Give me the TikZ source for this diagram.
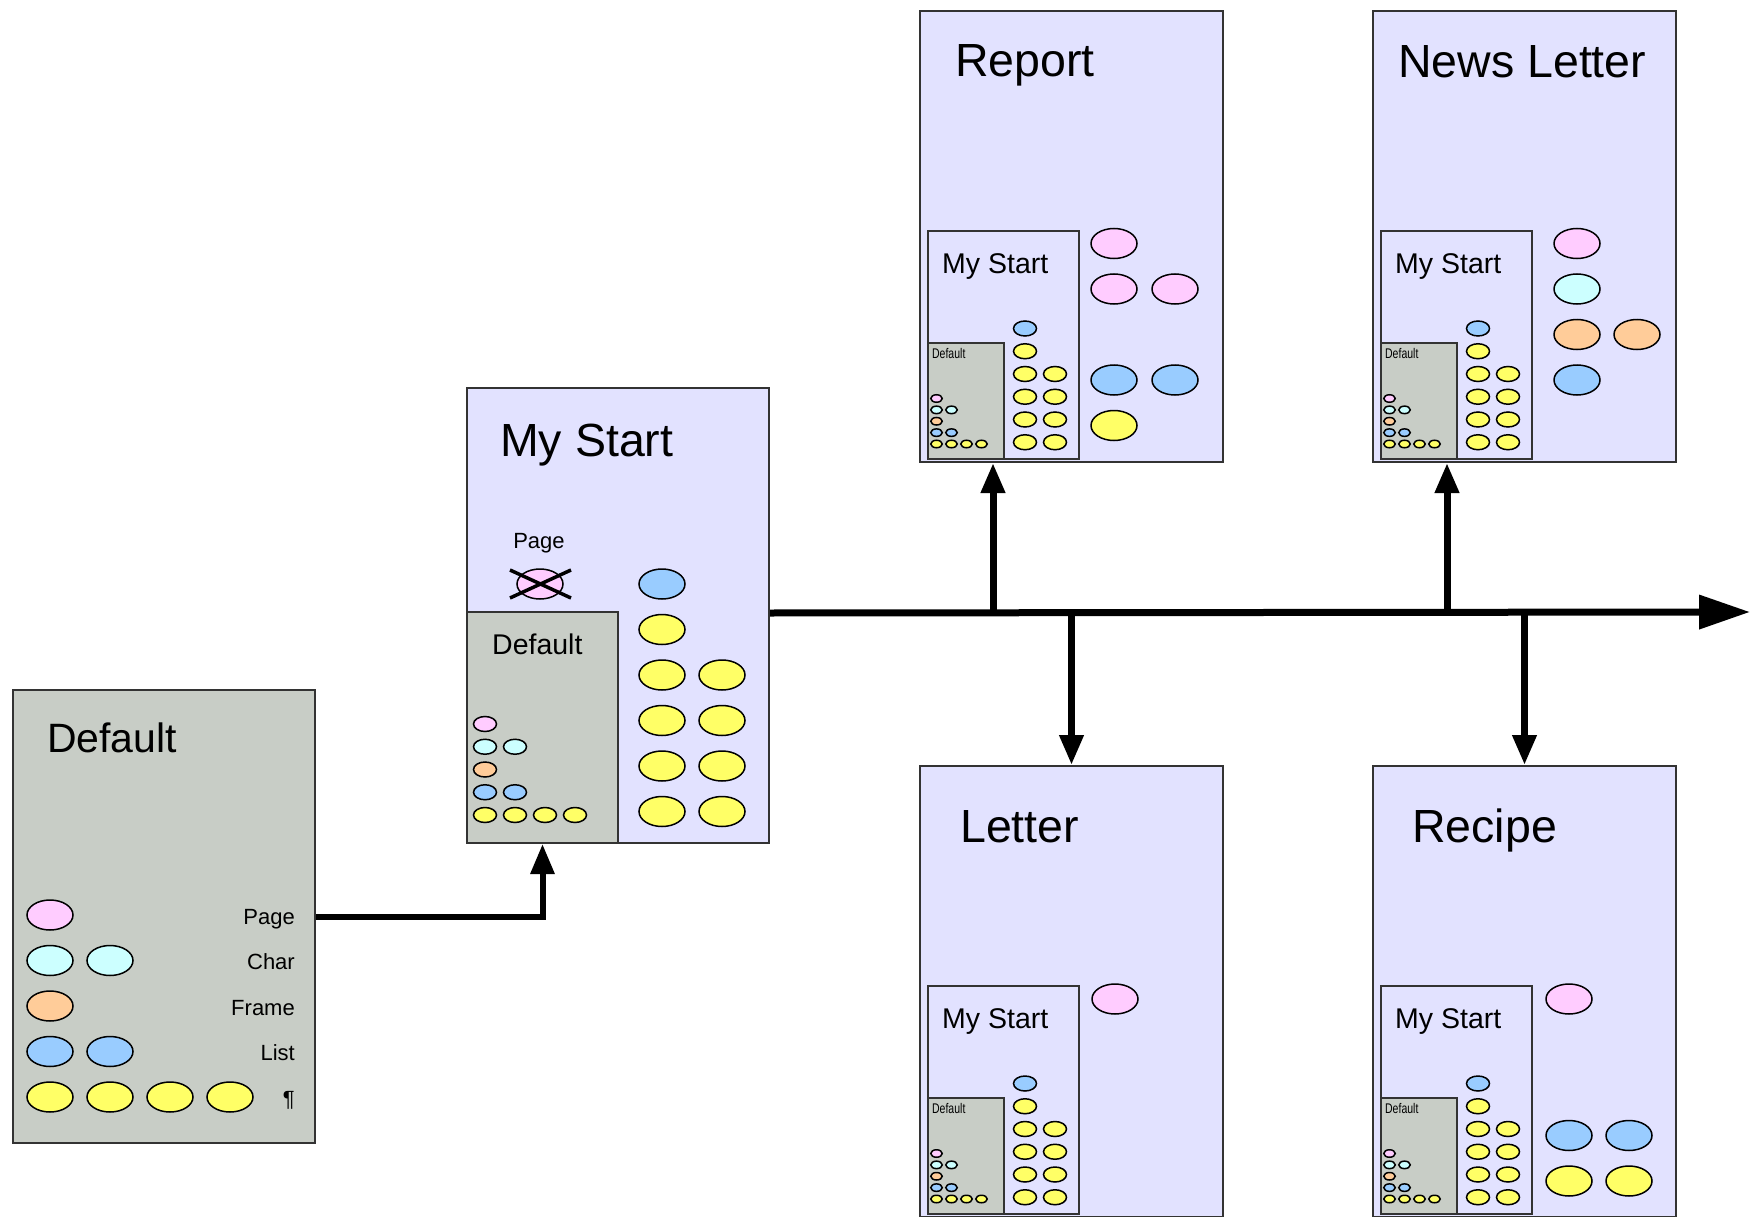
\documentclass[tikz,border=0pt]{standalone}
\usepackage{fontspec}
\setmainfont{Liberation Sans}
\usetikzlibrary{shapes.geometric,arrows.meta,positioning,calc}

\definecolor{tmplfill}{HTML}{E2E2FF}
\definecolor{basefill}{HTML}{C8CDC6}
\definecolor{pagecol}{HTML}{FFCCFF}
\definecolor{charcol}{HTML}{CCFFFF}
\definecolor{framecol}{HTML}{FFCC99}
\definecolor{listcol}{HTML}{99CCFF}
\definecolor{paracol}{HTML}{FFFF66}

\tikzset{
  stylebox/.style={draw=black!80, line width=2pt, inner sep=0pt, anchor=north west},
  basebox/.style={stylebox, fill=basefill},
  tmplbox/.style={stylebox, fill=tmplfill},
  blob/.style={ellipse, draw=black, line width=1.5pt, inner sep=0pt, minimum width=46pt, minimum height=30pt},
  boxtitle/.style={anchor=base west, inner sep=0pt},
  titlefont/.style={font=\fontsize{46.5}{50}\selectfont},
  deffont/.style={font=\fontsize{41}{44}\selectfont},
  minifont/.style={font=\fontsize{28.5}{31}\selectfont},
  microfont/.style={font=\fontsize{14}{15}\selectfont, xscale=0.75},
  stylelabel/.style={anchor=base east, inner sep=0pt, font=\fontsize{22}{24}\selectfont},
  flow/.style={line width=7pt, -{Triangle[length=30pt, width=23pt]}},
  mainflow/.style={line width=7pt, -{Triangle[length=51pt, width=33pt]}},
}

% Default template: [height], name, top left, scale, title style, title offset
\newcommand{\drawdefault}[6][453]{%
  \node[basebox, minimum width=#4*302pt, minimum height=#4*#1pt] (#2) at #3 {};
  \node[boxtitle, #5] (#2t) at ($(#2.north west)+#6$) {Default};
  \foreach \row/\cnt/\fillc in {0/1/pagecol, 1/2/charcol, 2/1/framecol, 3/2/listcol, 4/4/paracol}
    \foreach \m in {1,...,\cnt}
      \node[blob, fill=\fillc, minimum width=#4*46pt, minimum height=#4*30pt]
        (#2\row\m) at ($(#2.north west)+({#4*(38+60*(\m-1))},{#4*(226+45.5*\row)})$) {};
}

% My Start template: name, top left, scale, title style, title offset,
% then title style and offset of the Default inside it
\newcommand{\drawmystart}[7]{%
  \node[tmplbox, minimum width=#3*302pt, minimum height=#3*455pt] (#1) at #2 {};
  \node[boxtitle, #4] (#1t) at ($(#1.north west)+#5$) {My Start};
  \node[blob, fill=listcol, minimum width=#3*46pt, minimum height=#3*30pt]
    (#1l) at ($(#1.north west)+({#3*196},{#3*197})$) {};
  \foreach \row/\cnt in {1/1, 2/2, 3/2, 4/2, 5/2}
    \foreach \m in {1,...,\cnt}
      \node[blob, fill=paracol, minimum width=#3*46pt, minimum height=#3*30pt]
        (#1p\row\m) at ($(#1.north west)+({#3*(196+60*(\m-1))},{#3*(197+45.5*\row)})$) {};
  \drawdefault[462]{#1d}{($(#1.north west)+(0,{#3*224})$)}{#3/2}{#6}{#7}
}

\begin{document}
\begin{tikzpicture}[x=1pt, y=-1pt]
  \useasboundingbox (0,0) rectangle (1751,1217);

  % base template and its style families
  \drawdefault{dflt}{(12,689)}{1}{deffont}{(35,63)}
  \foreach \row/\txt in {0/Page, 1/Char, 2/Frame, 3/List, 4/¶}
    \node[stylelabel] (dl\row) at ($(dflt.north west)+(283,{235+45.5*\row})$) {\txt};

  % My Start, built on Default, drops the page style
  \drawmystart{mystart}{(466,387)}{1}{titlefont}{(34,69)}{minifont}{(26,43)}
  \node[blob, fill=pagecol] (xpage) at ($(mystart.north west)+(74,197)$) {};
  \draw[line width=3.5pt] ($(xpage)+(-30,-14)$) -- ($(xpage)+(31,14)$)
                          ($(xpage)+(-30,14)$) -- ($(xpage)+(31,-14)$);
  \node[stylelabel, anchor=base] (xpagel) at ($(xpage)+(-1,-36)$) {Page};

  % templates derived from My Start
  \foreach \nm/\txt/\x/\y/\tx/\ty in {report/Report/919/10/36/67, news/News Letter/1372/10/26/68,
                                     letter/Letter/919/765/41/77, recipe/Recipe/1372/765/40/77} {
    \node[tmplbox, minimum width=303pt, minimum height=451pt] (\nm) at (\x,\y) {};
    \node[boxtitle, titlefont] (\nm t) at ($(\nm.north west)+(\tx,\ty)$) {\txt};
    \drawmystart{\nm m}{($(\nm.north west)+(8,220)$)}{0.5}{minifont}{(15,43)}{microfont}{(5,16)}
  }

  % their own styles
  \foreach \row/\m/\fillc in {0/0/pagecol, 1/0/pagecol, 1/1/pagecol, 3/0/listcol, 3/1/listcol, 4/0/paracol}
    \node[blob, fill=\fillc] (report\row\m) at ($(report.north west)+({195+61*\m},{233.5+45.5*\row})$) {};
  \foreach \row/\m/\fillc in {0/0/pagecol, 1/0/charcol, 2/0/framecol, 2/1/framecol, 3/0/listcol}
    \node[blob, fill=\fillc] (news\row\m) at ($(news.north west)+({205+60*\m},{233.5+45.5*\row})$) {};
  \foreach \row/\m/\fillc in {0/0/pagecol}
    \node[blob, fill=\fillc] (letter\row\m) at ($(letter.north west)+({196+60*\m},{234+45.5*\row})$) {};
  \foreach \row/\m/\fillc in {0/0/pagecol, 3/0/listcol, 3/1/listcol, 4/0/paracol, 4/1/paracol}
    \node[blob, fill=\fillc] (recipe\row\m) at ($(recipe.north west)+({197+60*\m},{234+45.5*\row})$) {};

  % connectors
  \coordinate (out) at ($(mystart.east)+(0,-2.5)$);
  \coordinate (tip) at (1750,612);
  \coordinate (ureport) at ($(report.south west)+(74,0)$);
  \coordinate (unews) at ($(news.south west)+(75,0)$);
  \draw[mainflow] (out) -- (tip);
  \draw[flow] (ureport |- out) -- (ureport);
  \draw[flow] (letter.north |- out) -- (letter.north);
  \draw[flow] (unews |- out) -- (unews);
  \draw[flow] (recipe.north |- out) -- (recipe.north);
  \draw[flow, line width=6pt] (dflt.east) -| (mystartd.south);
\end{tikzpicture}
\end{document}
